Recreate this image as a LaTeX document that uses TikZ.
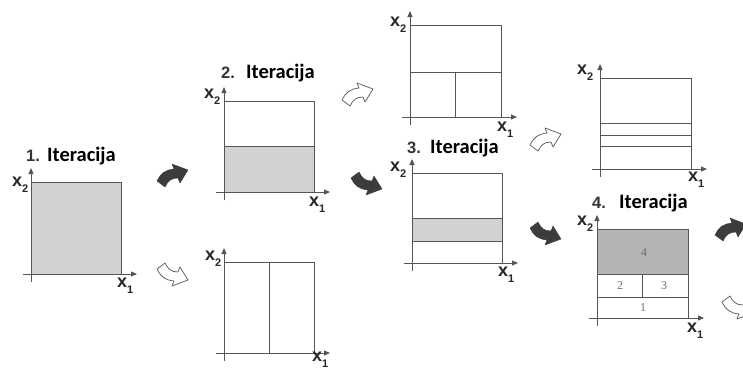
\documentclass[tikz,border=0pt]{standalone}
\usepackage{fontspec}
\setmainfont{Liberation Sans}
\newfontfamily\carl{Carlito}
\newfontfamily\serf{Liberation Serif}
\usetikzlibrary{arrows.meta}
\definecolor{boxline}{HTML}{555555}
\definecolor{lightfill}{HTML}{D2D2D4}
\definecolor{darkfill}{HTML}{B4B4B6}
\definecolor{arrdark}{HTML}{3C3C3C}
\definecolor{numgray}{HTML}{707070}
\tikzset{
  frame/.style={draw=boxline, line width=0.9pt},
  axis/.style={draw=boxline, line width=0.9pt, -{Triangle[length=6pt,width=5pt]}},
  xlab/.style={font=\fontsize{18}{18}\selectfont\bfseries, text=black!85, inner sep=0pt, anchor=base west},
  tnum/.style={font=\fontsize{16.5}{16.5}\selectfont\bfseries, text=black!80, inner sep=0pt, anchor=base west},
  tword/.style={font=\carl\fontsize{20.5}{20.5}\selectfont\bfseries, text=black, inner sep=0pt, anchor=base west},
  cellnum/.style={font=\serf\fontsize{12}{12}\selectfont, text=numgray, inner sep=0pt},
  darkarr/.style={fill=arrdark, draw=arrdark, line width=0.4pt, line join=round},
  hollowarr/.style={fill=white, draw=black!60, line width=0.8pt, line join=round},
  pics/barrow/.style={code={
    \path[#1] (0,16) .. controls (4,8) and (8,5) .. (17,4) -- (15,-1) -- (31,5)
      -- (23,18) -- (21,13) .. controls (14,13) and (11,16) .. (8,22) -- cycle;}}
}
% left top right bottom
\newcommand\plotaxes[4]{%
  \draw[axis] (#1,#4+8) -- (#1,#2-14);
  \draw[axis] (#1-8,#4) -- (#3+16,#4);}
\newcommand\axlab[4]{% name, x-centre, y-centre, index
  \node[xlab] (#1) at (#2-5,#3+4.5) {x\raisebox{-5.5pt}{\fontsize{11}{11}\selectfont #4}};}
\begin{document}
\begin{tikzpicture}[x=1pt,y=-1pt]
\useasboundingbox (0,0) rectangle (743,370);
\clip (0,0) rectangle (743,370);

% ---------- 1. Iteracija
\node[tnum] (t1n) at (26,161) {1.};
\node[tword] (t1w) at (47,161) {Iteracija};
\fill[lightfill] (31,182) rectangle (121,274);
\draw[frame] (31,182) rectangle (121,274);
\plotaxes{31}{182}{121}{274}
\axlab{a1y}{17}{182}{2}
\axlab{a1x}{122}{283}{1}

% ---------- 2. Iteracija (top)
\node[tnum] (t2n) at (221,78) {2.};
\node[tword] (t2w) at (246,78) {Iteracija};
\fill[lightfill] (224,146) rectangle (314,192);
\draw[frame] (224,101) rectangle (314,192);
\draw[frame] (224,146) -- (314,146);
\plotaxes{224}{101}{314}{192}
\axlab{a2y}{209}{94}{2}
\axlab{a2x}{314}{202}{1}

% ---------- 2 (bottom)
\draw[frame] (224,262) rectangle (314,353);
\draw[frame] (269,262) -- (269,353);
\plotaxes{224}{262}{314}{353}
\axlab{b2y}{210}{256}{2}
\axlab{b2x}{317}{357}{1}

% ---------- 3 (top)
\draw[frame] (410,25) rectangle (501,117);
\draw[frame] (410,72) -- (501,72);
\draw[frame] (455,72) -- (455,117);
\plotaxes{410}{25}{501}{117}
\axlab{b3y}{395}{22}{2}
\axlab{b3x}{502}{127}{1}

% ---------- 3. Iteracija
\node[tnum] (t3n) at (407,153) {3.};
\node[tword] (t3w) at (430,153) {Iteracija};
\fill[lightfill] (412,218) rectangle (502,241);
\draw[frame] (412,173) rectangle (502,263);
\draw[frame] (412,218) -- (502,218);
\draw[frame] (412,241) -- (502,241);
\plotaxes{412}{173}{502}{263}
\axlab{a3y}{395}{167}{2}
\axlab{a3x}{503}{272}{1}

% ---------- 4 (top)
\draw[frame] (600,78) rectangle (691,169);
\draw[frame] (600,123) -- (691,123);
\draw[frame] (600,135) -- (691,135);
\draw[frame] (600,146) -- (691,146);
\plotaxes{600}{78}{691}{169}
\axlab{b4y}{582}{70}{2}
\axlab{b4x}{693}{177}{1}

% ---------- 4. Iteracija
\node[tnum] (t4n) at (592,208) {4.};
\node[tword] (t4w) at (619,208) {Iteracija};
\fill[darkfill] (597,229) rectangle (688,274);
\draw[frame] (597,229) rectangle (688,318);
\draw[frame] (597,274) -- (688,274);
\draw[frame] (597,297) -- (688,297);
\draw[frame] (642,274) -- (642,297);
\node[cellnum] (c4) at (644,253) {4};
\node[cellnum] (c2) at (620,286) {2};
\node[cellnum] (c3) at (664,286) {3};
\node[cellnum] (c1) at (643,308) {1};
\plotaxes{597}{229}{688}{318}
\axlab{a4y}{582}{221}{2}
\axlab{a4x}{692}{328}{1}

% ---------- arrows
\pic at (157,165) {barrow=darkarr};
\pic[yscale=-1] at (157,285) {barrow=hollowarr};
\pic at (342,84) {barrow=hollowarr};
\pic[yscale=-1] at (351,194) {barrow=darkarr};
\pic at (530,129) {barrow=hollowarr};
\pic[yscale=-1] at (530,244) {barrow=darkarr};
\pic at (715,219) {barrow=darkarr};
\pic[yscale=-1] at (722,318) {barrow=hollowarr};
\end{tikzpicture}
\end{document}
